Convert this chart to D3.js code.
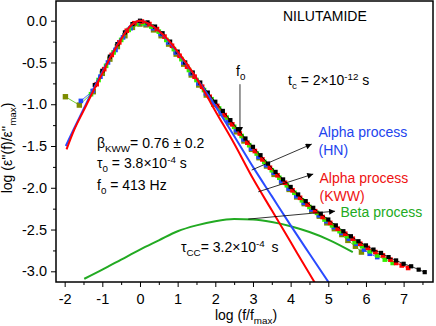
<!DOCTYPE html>
<html>
<head>
<meta charset="utf-8">
<script src="https://cdn.jsdelivr.net/npm/d3@7"></script>
<style>
  body { margin: 0; background: #fff; }
  svg { display: block; font-family: "Liberation Sans", Arial, sans-serif; }
  text { white-space: pre; }
</style>
</head>
<body>
<svg id="chart" width="436" height="326"></svg>
<script>
// Measured loss data, several temperatures shifted onto one master curve [log(f/fmax), log(e''/e''max)]
var blackPts = [[-1.2,-0.77],[-1.0,-0.6],[-0.8,-0.43],[-0.6,-0.28],[-0.4,-0.14],[-0.2,-0.04],[0,0],[0.2,-0.02],[0.4,-0.07],[0.6,-0.15],[0.8,-0.25],[1.0,-0.37],[1.2,-0.5],[1.4,-0.62],[1.6,-0.74],[1.8,-0.86],[2.0,-0.97],[2.2,-1.08],[2.4,-1.19],[2.6,-1.3],[2.8,-1.41],[3.0,-1.51],[3.2,-1.61],[3.4,-1.71],[3.6,-1.81],[3.8,-1.9],[4.0,-1.99],[4.2,-2.08],[4.4,-2.16],[4.6,-2.24],[4.8,-2.31],[5.0,-2.38],[5.2,-2.45],[5.4,-2.52],[5.6,-2.58],[5.8,-2.64],[6.0,-2.69],[6.2,-2.74],[6.4,-2.78],[6.6,-2.83],[6.8,-2.87],[7.0,-2.91],[7.2,-2.94],[7.4,-2.98],[7.56,-3.01]];
var redPts = [[-1.15,-0.76],[-0.95,-0.58],[-0.75,-0.41],[-0.55,-0.26],[-0.35,-0.12],[-0.15,-0.03],[0.05,-0.01],[0.25,-0.04],[0.45,-0.1],[0.65,-0.19],[0.85,-0.3],[1.05,-0.42],[1.25,-0.55],[1.45,-0.67],[1.65,-0.79],[1.85,-0.91],[2.05,-1.02],[2.25,-1.13],[2.45,-1.24],[2.65,-1.35],[2.85,-1.46],[3.05,-1.56],[3.25,-1.66],[3.45,-1.76],[3.65,-1.85],[3.85,-1.94],[4.05,-2.03],[4.25,-2.12],[4.45,-2.2],[4.65,-2.28],[4.85,-2.35],[5.05,-2.42],[5.25,-2.49],[5.45,-2.55],[5.65,-2.61],[5.85,-2.67],[6.05,-2.72],[6.25,-2.77],[6.45,-2.81],[6.65,-2.86],[6.8,-2.9],[6.95,-2.93],[7.12,-2.96]];
var greenPts = [[-1.3,-0.88],[-1.1,-0.71],[-0.9,-0.54],[-0.7,-0.38],[-0.5,-0.23],[-0.3,-0.11],[-0.1,-0.04],[0.1,-0.03],[0.3,-0.07],[0.5,-0.13],[0.7,-0.23],[0.9,-0.34],[1.1,-0.46],[1.3,-0.59],[1.5,-0.71],[1.7,-0.83],[1.9,-0.94],[2.1,-1.05],[2.3,-1.16],[2.5,-1.27],[2.7,-1.38],[2.9,-1.49],[3.1,-1.59],[3.3,-1.69],[3.5,-1.79],[3.7,-1.88],[3.9,-1.97],[4.1,-2.06],[4.3,-2.15],[4.5,-2.23],[4.7,-2.3],[4.9,-2.38],[5.1,-2.45],[5.3,-2.52],[5.5,-2.58],[5.7,-2.65],[5.9,-2.7],[6.1,-2.76],[6.3,-2.81],[6.5,-2.86],[6.71,-2.9]];
var bluePts = [[-1.57,-0.96],[-1.25,-0.84],[-1.05,-0.67],[-0.85,-0.5],[-0.65,-0.35],[-0.45,-0.2],[-0.25,-0.09],[-0.05,-0.03],[0.15,-0.04],[0.35,-0.09],[0.55,-0.16],[0.75,-0.26],[0.95,-0.38],[1.15,-0.5],[1.35,-0.63],[1.55,-0.75],[1.75,-0.87],[1.95,-0.98],[2.15,-1.09],[2.35,-1.2],[2.55,-1.31],[2.75,-1.42],[2.95,-1.53],[3.15,-1.63],[3.35,-1.73],[3.55,-1.82],[3.75,-1.92],[3.95,-2.01],[4.15,-2.1],[4.35,-2.18],[4.55,-2.26],[4.75,-2.33],[4.95,-2.4],[5.15,-2.47],[5.35,-2.54],[5.55,-2.61],[5.75,-2.67],[5.95,-2.74],[6.1,-2.79],[6.3,-2.83]];
var olivePts = [[-1.98,-0.91],[-1.61,-1.01],[-1.24,-0.85],[-1.0,-0.63],[-0.8,-0.46],[-0.6,-0.31],[-0.4,-0.18],[-0.2,-0.08],[0.0,-0.04],[0.16,-0.05],[0.36,-0.11],[0.56,-0.18],[0.76,-0.28],[0.96,-0.4],[1.16,-0.52],[1.36,-0.65],[1.56,-0.77],[1.76,-0.89],[1.96,-1.0],[2.16,-1.11],[2.36,-1.22],[2.56,-1.33],[2.76,-1.44],[2.96,-1.54],[3.16,-1.64],[3.36,-1.74],[3.56,-1.84],[3.76,-1.93],[3.96,-2.02],[4.16,-2.11],[4.36,-2.19],[4.56,-2.27],[4.76,-2.34],[4.96,-2.42],[5.16,-2.49],[5.36,-2.56],[5.52,-2.63],[5.72,-2.7],[5.88,-2.77]];

// Fit curves
var hnFit = [[-1.97,-1.5],[-1.75,-1.29],[-1.5,-1.06],[-1.25,-0.83],[-1.0,-0.61],[-0.75,-0.4],[-0.5,-0.21],[-0.25,-0.06],[0,0],[0.25,-0.04],[0.5,-0.12],[0.75,-0.24],[1.0,-0.38],[1.25,-0.53],[1.5,-0.69],[1.75,-0.85],[2.0,-1.02],[2.5,-1.38],[3.0,-1.75],[3.5,-2.1],[4.0,-2.45],[4.5,-2.79],[5.05,-3.16]];
var kwwFit = [[-1.95,-1.54],[-1.75,-1.31],[-1.5,-1.08],[-1.25,-0.85],[-1.0,-0.63],[-0.75,-0.41],[-0.5,-0.22],[-0.25,-0.06],[0,0],[0.25,-0.04],[0.5,-0.12],[0.75,-0.23],[1.0,-0.37],[1.25,-0.52],[1.5,-0.69],[1.75,-0.88],[2.0,-1.08],[2.5,-1.47],[3.0,-1.89],[3.5,-2.27],[4.0,-2.65],[4.5,-3.03],[4.7,-3.18]];
var betaFit = [[-1.48,-3.09],[-1.0,-2.98],[-0.5,-2.86],[0,-2.74],[0.5,-2.63],[1.0,-2.52],[1.5,-2.45],[2.0,-2.4],[2.5,-2.375],[3.0,-2.38],[3.5,-2.41],[4.0,-2.46],[4.5,-2.53],[5.0,-2.62],[5.65,-2.77]];

// Ticks
var xTicks = [-2, -1, 0, 1, 2, 3, 4, 5, 6, 7];
var xTickLabels = ["-2", "-1", "0", "1", "2", "3", "4", "5", "6", "7"];
var yTicks = [-3.0, -2.5, -2.0, -1.5, -1.0, -0.5, 0.0];
var yTickLabels = ["-3.0", "-2.5", "-2.0", "-1.5", "-1.0", "-0.5", "0.0"];

var svg = d3.select("#chart");
var margin = { top: 1, right: 3, bottom: 44, left: 56 };
var width = 436 - margin.left - margin.right;
var height = 326 - margin.top - margin.bottom;

var x = d3.scaleLinear().domain([-2.23, 7.78]).range([0, width]);
var y = d3.scaleLinear().domain([-3.128, 0.236]).range([height, 0]);

var defs = svg.append("defs");
defs.append("clipPath").attr("id", "plotClip")
  .append("rect").attr("width", width).attr("height", height);
defs.append("marker")
  .attr("id", "arrow")
  .attr("viewBox", "0 0 10 10")
  .attr("refX", 10).attr("refY", 5)
  .attr("markerWidth", 8).attr("markerHeight", 6)
  .attr("markerUnits", "userSpaceOnUse")
  .attr("orient", "auto")
  .append("path").attr("d", "M0,0 L10,5 L0,10 z").attr("fill", "#000");

var g = svg.append("g").attr("transform", "translate(" + margin.left + "," + margin.top + ")");

// Axes
var fmtX = function(d) { return xTickLabels[xTicks.indexOf(d)]; };
var fmtY = function(d) { return yTickLabels[yTicks.indexOf(d)]; };

var xMinor = d3.range(-1.5, 7.6, 1);
var yMinor = d3.range(-2.75, 0.1, 0.5);

g.append("g").attr("transform", "translate(0," + height + ")")
  .call(d3.axisBottom(x).tickValues(xMinor).tickSize(3).tickFormat(""))
  .call(function(a) { a.select(".domain").remove(); });
g.append("g").attr("class", "xaxis").attr("transform", "translate(0," + height + ")")
  .call(d3.axisBottom(x).tickValues(xTicks).tickSize(5).tickPadding(7).tickFormat(fmtX))
  .call(function(a) { a.select(".domain").remove(); });
g.append("g")
  .call(d3.axisLeft(y).tickValues(yMinor).tickSize(3).tickFormat(""))
  .call(function(a) { a.select(".domain").remove(); });
g.append("g").attr("class", "yaxis")
  .call(d3.axisLeft(y).tickValues(yTicks).tickSize(5).tickPadding(4).tickFormat(fmtY))
  .call(function(a) { a.select(".domain").remove(); });

g.selectAll(".tick line").attr("stroke", "#000").attr("stroke-width", 1);
g.selectAll(".tick text")
  .attr("fill", "#000")
  .style("font-family", "'Liberation Sans', Arial, sans-serif")
  .style("font-size", "14.5px");

// Data series (drawn bottom to top)
var plot = g.append("g").attr("clip-path", "url(#plotClip)");
var pointLine = d3.line().x(function(d) { return x(d[0]); }).y(function(d) { return y(d[1]); });

var series = [
  { pts: olivePts, fill: "#7d8c00", stroke: "#4cc000", size: 5.4 },
  { pts: bluePts, fill: "#1f48ff", stroke: "#1f48ff", size: 4.6 },
  { pts: greenPts, fill: "#33ee00", stroke: "#33ee00", size: 4.6 },
  { pts: redPts, fill: "#ff0000", stroke: "#ff0000", size: 4.6 },
  { pts: blackPts, fill: "#000000", stroke: "#000000", size: 4.2 }
];

series.forEach(function(s) {
  plot.append("path").datum(s.pts)
    .attr("fill", "none").attr("stroke", s.stroke).attr("stroke-width", 0.8)
    .attr("d", pointLine);
  plot.selectAll(null).data(s.pts).enter().append("rect")
    .attr("x", function(d) { return x(d[0]) - s.size / 2; })
    .attr("y", function(d) { return y(d[1]) - s.size / 2; })
    .attr("width", s.size).attr("height", s.size)
    .attr("fill", s.fill);
});

// Fit curves
var fitLine = d3.line().curve(d3.curveMonotoneX)
  .x(function(d) { return x(d[0]); }).y(function(d) { return y(d[1]); });

plot.append("path").datum(betaFit).attr("fill", "none").attr("stroke", "#22aa22").attr("stroke-width", 2).attr("d", fitLine);
plot.append("path").datum(hnFit).attr("fill", "none").attr("stroke", "#2a4bff").attr("stroke-width", 2).attr("d", fitLine);
plot.append("path").datum(kwwFit).attr("fill", "none").attr("stroke", "#ff0000").attr("stroke-width", 2).attr("d", fitLine);

// Frame
g.append("rect").attr("width", width).attr("height", height)
  .attr("fill", "none").attr("stroke", "#000").attr("stroke-width", 1.5);

// Arrows
function arrow(x1, y1, x2, y2) {
  g.append("line")
    .attr("x1", x(x1)).attr("y1", y(y1)).attr("x2", x(x2)).attr("y2", y(y2))
    .attr("stroke", "#000").attr("stroke-width", 0.8)
    .attr("marker-end", "url(#arrow)");
}
arrow(2.655, -0.76, 2.655, -1.345);
arrow(2.965, -1.788, 4.56, -1.477);
arrow(3.14, -2.048, 4.6, -1.836);
arrow(2.875, -2.375, 5.18, -2.28);

// Rich text helper: parts with optional sub / sup
function richText(parent, px, py, parts, color, size) {
  size = size || 14;
  var t = parent.append("text").attr("x", px).attr("y", py)
    .attr("fill", color || "#000").style("font-size", size + "px");
  var shift = 0;
  parts.forEach(function(p) {
    var target = p.sub ? 4 : (p.sup ? -5 : 0);
    var s = t.append("tspan").attr("dy", target - shift).text(p.t);
    if (p.sub || p.sup) s.style("font-size", (size * 0.7) + "px");
    if (p.dx) s.attr("dx", p.dx);
    shift = target;
  });
  return t;
}

richText(svg, 283, 20.5, [{ t: "NILUTAMIDE" }]);
richText(svg, 288, 85, [{ t: "t" }, { t: "c", sub: true }, { t: " = 2\u00d710" }, { t: "-12", sup: true }, { t: " s" }]);
richText(svg, 236, 76, [{ t: "f" }, { t: "0", sub: true }]);

richText(svg, 97, 147.5, [{ t: "\u03b2" }, { t: "KWW", sub: true }, { t: "= 0.76 \u00b1 0.2" }]);
richText(svg, 97, 168, [{ t: "\u03c4" }, { t: "0", sub: true }, { t: " = 3.8\u00d710" }, { t: "-4", sup: true }, { t: " s" }]);
richText(svg, 97, 189.5, [{ t: "f" }, { t: "0", sub: true }, { t: " = 413 Hz" }]);
richText(svg, 181, 252, [{ t: "\u03c4" }, { t: "CC", sub: true }, { t: "= 3.2\u00d710" }, { t: "-4", sup: true }, { t: " s", dx: 3 }]);

richText(svg, 318.5, 137, [{ t: "Alpha process" }], "#2244ee");
richText(svg, 318.5, 155, [{ t: "(HN)" }], "#2244ee");
richText(svg, 319.5, 183, [{ t: "Alpha process" }], "#ee1111");
richText(svg, 319.5, 200.5, [{ t: "(KWW)" }], "#ee1111");
richText(svg, 340.5, 217, [{ t: "Beta process" }], "#22aa22");

// Axis titles
richText(svg, 246, 320, [{ t: "log (f/f" }, { t: "max", sub: true }, { t: ")" }]).attr("text-anchor", "middle");
var yl = svg.append("g").attr("transform", "translate(12,148) rotate(-90)");
richText(yl, 0, 0, [{ t: "log (\u03b5''(f)/\u03b5''" }, { t: "max", sub: true }, { t: ")" }]).attr("text-anchor", "middle");
</script>
</body>
</html>
